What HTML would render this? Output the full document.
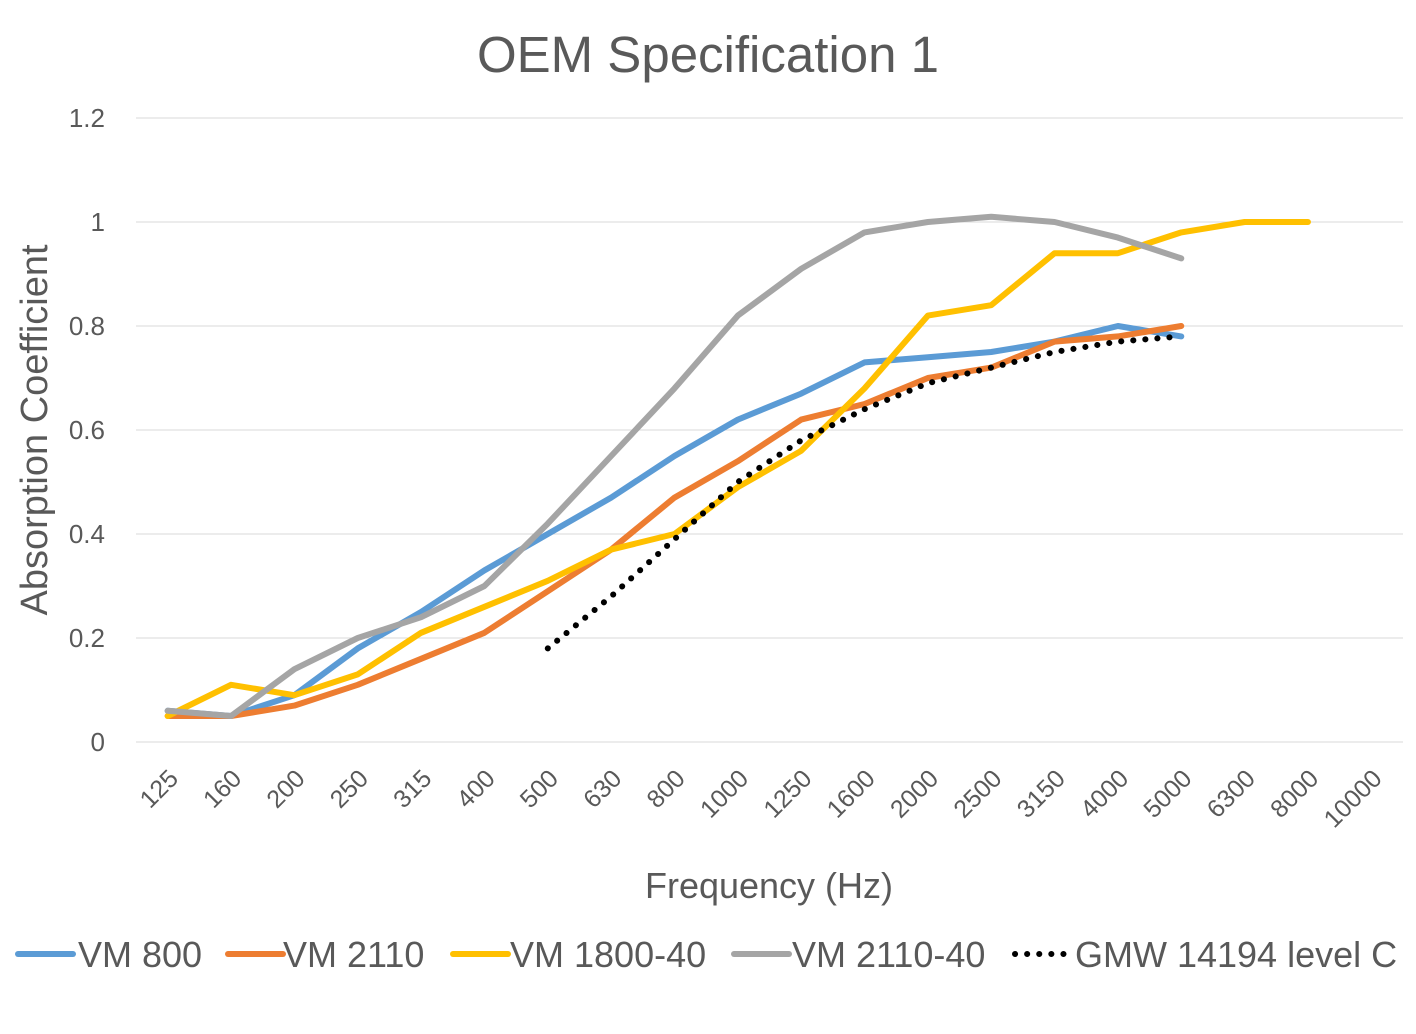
<!DOCTYPE html>
<html><head><meta charset="utf-8"><style>
body{margin:0;background:#fff;}
svg text{font-family:"Liberation Sans",sans-serif;fill:#595959;}
</style></head><body>
<svg id="chart" width="1416" height="1029">
<text x="708" y="72" font-size="51" text-anchor="middle">OEM Specification 1</text>
<g id="grid"></g><g id="yt"></g><g id="xt"></g><g id="series"></g>
<text transform="translate(47,430) rotate(-90)" font-size="38" text-anchor="middle">Absorption Coefficient</text>
<text x="769" y="898" font-size="36" text-anchor="middle">Frequency (Hz)</text>
<g id="legend"></g>
</svg>
<script>
const categories=["125","160","200","250","315","400","500","630","800","1000","1250","1600","2000","2500","3150","4000","5000","6300","8000","10000"];
const yTicks=[0,0.2,0.4,0.6,0.8,1,1.2];
const vm800=[0.06,0.05,0.09,0.18,0.25,0.33,0.40,0.47,0.55,0.62,0.67,0.73,0.74,0.75,0.77,0.80,0.78];
const vm2110=[0.05,0.05,0.07,0.11,0.16,0.21,0.29,0.37,0.47,0.54,0.62,0.65,0.70,0.72,0.77,0.78,0.80];
const vm1800=[0.05,0.11,0.09,0.13,0.21,0.26,0.31,0.37,0.40,0.49,0.56,0.68,0.82,0.84,0.94,0.94,0.98,1.0,1.0];
const vm2110_40=[0.06,0.05,0.14,0.20,0.24,0.30,0.42,0.55,0.68,0.82,0.91,0.98,1.0,1.01,1.0,0.97,0.93];
const gmw=[null,null,null,null,null,null,0.18,0.28,0.39,0.50,0.58,0.64,0.69,0.72,0.75,0.77,0.78];
const names=["VM 800","VM 2110","VM 1800-40","VM 2110-40","GMW 14194 level C"];
const NS="http://www.w3.org/2000/svg";
const L=136,R=1403,Y0=742,Y1=118,YMAX=1.2;
const bw=(R-L)/categories.length;
const xs=i=>L+bw*(i+0.5);
const ys=v=>Y0-(v/YMAX)*(Y0-Y1);
function mk(t,a,p){const e=document.createElementNS(NS,t);for(const k in a)e.setAttribute(k,a[k]);p.appendChild(e);return e;}
const grid=document.getElementById('grid'),yt=document.getElementById('yt'),xt=document.getElementById('xt');
yTicks.forEach(v=>{
 const l=mk('line',{x1:L,x2:R,y1:ys(v),y2:ys(v),stroke:'#d9d9d9','stroke-width':1},grid);
 
 
 const t=mk('text',{x:105,y:ys(v)+9,'font-size':26,'text-anchor':'end'},yt);t.textContent=String(v);
 
 
});
categories.forEach((c,i)=>{
 const x=xs(i)+12,y=Y0+38;
 const t=mk('text',{x:x,y:y,'font-size':25,'text-anchor':'end',transform:`rotate(-45 ${x} ${y})`},xt);t.textContent=c;
 
 
});
const sg=document.getElementById('series');
const defs=[[vm800,'#5b9bd5',''],[vm2110,'#ed7d31',''],[vm1800,'#ffc000',''],[vm2110_40,'#a5a5a5',''],[gmw,'#000','dot']];
defs.forEach((d,k)=>{
 const pts=[];d[0].forEach((v,i)=>{if(v!==null)pts.push(xs(i)+','+ys(v));});
 const a={points:pts.join(' '),fill:'none',stroke:d[1],'stroke-width':6,'stroke-linejoin':'round','stroke-linecap':'round'};
 if(d[2]){a['stroke-dasharray']='0.1 12';}
 const p=mk('polyline',a,sg);
 
 
});
const lg=document.getElementById('legend');
const lx=[18,228,453,734,1015];
const tx=[78,283,510,792,1075];
defs.forEach((d,k)=>{
 const g=mk('g',{},lg);
 
 
 const a={x1:lx[k],x2:lx[k]+55,y1:954,y2:954,stroke:d[1],'stroke-width':6,'stroke-linecap':'round'};
 if(d[2]){a['stroke-dasharray']='0.1 12';}
 mk('line',a,g);
 const t=mk('text',{x:tx[k],y:967,'font-size':36},g);t.textContent=names[k];
});
</script>
</body></html>
